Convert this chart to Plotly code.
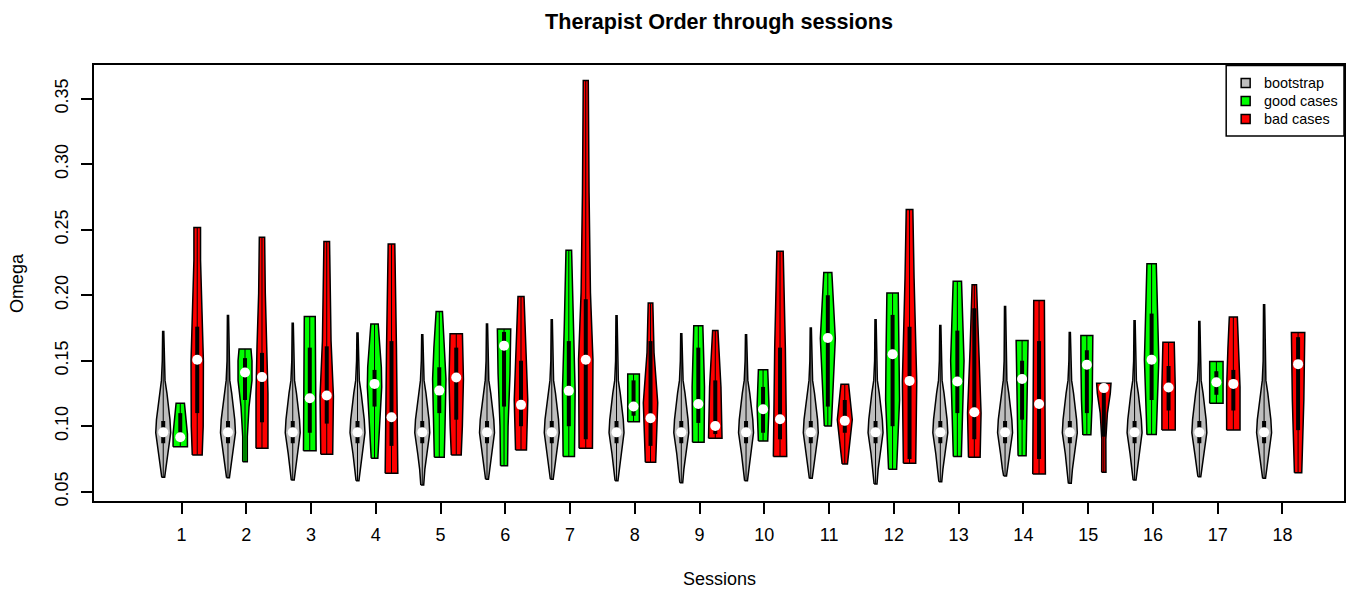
import plotly.graph_objects as go

# ---------------------------------------------------------------- data
sessions = list(range(1, 19))

# bootstrap distribution of Omega per session
boot_min = [0.0610, 0.0607, 0.0589, 0.0584, 0.0551, 0.0595, 0.0595, 0.0584, 0.0569,
            0.0584, 0.0602, 0.0559, 0.0576, 0.0620, 0.0564, 0.0589, 0.0615, 0.0602]
boot_max = [0.1723, 0.1846, 0.1787, 0.1711, 0.1698, 0.1780, 0.1813, 0.1843, 0.1706,
            0.1698, 0.1749, 0.1813, 0.1769, 0.1914, 0.1716, 0.1805, 0.1800, 0.1927]
boot_median = [0.0953] * 18
boot_q1 = [0.087] * 18
boot_q3 = [0.104] * 18
# relative density of the bootstrap violins (same shape every session)
boot_levels = [0.067, 0.079, 0.095, 0.105, 0.125, 0.135, 0.150]
boot_density = [0.36, 0.63, 1.04, 0.94, 0.52, 0.25, 0.13]
boot_end_density = (0.20, 0.08)

# good cases: (Omega level, relative density) from minimum to maximum
good_profiles = [
    [(0.0844, 1.00), (0.094, 1.00), (0.1176, 0.58)],
    [(0.0729, 0.32), (0.092, 0.32), (0.115, 0.56), (0.135, 0.97), (0.150, 0.97), (0.1589, 0.83)],
    [(0.0813, 0.88), (0.130, 0.85), (0.1838, 0.76)],
    [(0.0755, 0.46), (0.0997, 0.69), (0.130, 1.00), (0.145, 0.95), (0.1780, 0.51)],
    [(0.0763, 0.69), (0.100, 0.80), (0.136, 0.93), (0.160, 0.75), (0.1876, 0.44)],
    [(0.0699, 0.49), (0.100, 0.56), (0.140, 0.83), (0.160, 0.93), (0.1742, 0.93)],
    [(0.0768, 0.79), (0.127, 0.88), (0.176, 0.63), (0.2343, 0.39)],
    [(0.1035, 0.81), (0.1398, 0.81)],
    [(0.0878, 0.81), (0.130, 0.86), (0.1767, 0.63)],
    [(0.0888, 0.65), (0.115, 0.83), (0.1431, 0.65)],
    [(0.1002, 0.49), (0.167, 1.04), (0.2174, 0.56)],
    [(0.0671, 0.56), (0.120, 0.97), (0.160, 0.90), (0.2017, 0.79)],
    [(0.0768, 0.56), (0.150, 0.93), (0.2106, 0.58)],
    [(0.0775, 0.56), (0.130, 0.75), (0.1654, 0.83)],
    [(0.0934, 0.56), (0.120, 0.75), (0.150, 0.83), (0.1693, 0.83)],
    [(0.0936, 0.65), (0.1507, 1.00), (0.2241, 0.65)],
    [(0.1176, 0.93), (0.1494, 0.93)],
    None,
]
good_median = [0.0916, 0.1410, 0.1214, 0.1323, 0.1272, 0.1614, 0.1270, 0.1150, 0.1170,
               0.1130, 0.1673, 0.1550, 0.1341, 0.1360, 0.1469, 0.1507, 0.1336, None]
good_q1 = [0.088, 0.120, 0.095, 0.115, 0.110, 0.115, 0.100, 0.108, 0.1025,
           0.095, 0.115, 0.100, 0.110, 0.105, 0.110, 0.120, 0.124, None]
good_q3 = [0.110, 0.152, 0.160, 0.143, 0.145, 0.172, 0.165, 0.135, 0.160,
           0.130, 0.200, 0.185, 0.173, 0.150, 0.158, 0.186, 0.142, None]

# bad cases
bad_profiles = [
    [(0.0781, 0.69), (0.100, 0.83), (0.150, 0.86), (0.176, 0.74), (0.227, 0.46), (0.2518, 0.46)],
    [(0.0832, 0.83), (0.125, 0.83), (0.161, 0.69), (0.2017, 0.46), (0.2442, 0.37)],
    [(0.0786, 0.83), (0.123, 0.93), (0.165, 0.60), (0.2411, 0.39)],
    [(0.0641, 0.88), (0.100, 0.83), (0.160, 0.69), (0.2391, 0.46)],
    [(0.0781, 0.69), (0.100, 0.85), (0.136, 1.00), (0.155, 0.95), (0.1706, 0.86)],
    [(0.0819, 0.76), (0.120, 0.94), (0.150, 0.75), (0.1991, 0.42)],
    [(0.0832, 0.93), (0.151, 1.00), (0.202, 0.65), (0.278, 0.46), (0.3640, 0.35)],
    [(0.0725, 0.72), (0.118, 1.00), (0.156, 0.49), (0.1940, 0.32)],
    [(0.0908, 0.94), (0.130, 0.79), (0.1731, 0.37)],
    [(0.0768, 0.93), (0.160, 0.74), (0.2335, 0.44)],
    [(0.0712, 0.37), (0.105, 1.04), (0.1321, 0.53)],
    [(0.0717, 0.86), (0.134, 1.00), (0.213, 0.63), (0.2654, 0.46)],
    [(0.0763, 0.81), (0.110, 0.94), (0.160, 0.58), (0.2080, 0.31)],
    [(0.0635, 0.88), (0.130, 0.80), (0.1960, 0.74)],
    [(0.0648, 0.30), (0.090, 0.28), (0.110, 0.50), (0.125, 0.90), (0.1329, 1.00)],
    [(0.0972, 0.93), (0.130, 0.93), (0.1642, 0.79)],
    [(0.0972, 0.93), (0.130, 0.93), (0.160, 0.75), (0.1833, 0.56)],
    [(0.0645, 0.51), (0.120, 0.80), (0.1716, 0.93)],
]
bad_median = [0.1507, 0.1375, 0.1234, 0.1069, 0.1372, 0.1163, 0.1507, 0.1061, 0.1002,
              0.1053, 0.1041, 0.1346, 0.1107, 0.1170, 0.1291, 0.1295, 0.1323, 0.1474]
bad_q1 = [0.110, 0.103, 0.102, 0.085, 0.105, 0.100, 0.090, 0.085, 0.094,
          0.090, 0.095, 0.075, 0.090, 0.075, 0.092, 0.112, 0.112, 0.097]
bad_q3 = [0.176, 0.156, 0.161, 0.165, 0.160, 0.150, 0.197, 0.165, 0.135,
          0.160, 0.120, 0.176, 0.190, 0.165, 0.130, 0.146, 0.143, 0.168]

y_ticks = [0.05, 0.10, 0.15, 0.20, 0.25, 0.30, 0.35]
legend_labels = ["bootstrap", "good cases", "bad cases"]

# ---------------------------------------------------------------- styling
HALF_WIDTH = 0.111              # violin half-width (x units) at relative density 1
OFFSET = {"boot": -0.283, "good": -0.02, "bad": 0.242}
COLORS = {"boot": "#BEBEBE", "good": "#00FF00", "bad": "#FF0000"}
FONT = "Liberation Sans, Arial, sans-serif"
PLOT_W, PLOT_H = 1252, 436      # plotting area in pixels
MARGIN = dict(l=94, r=5, t=65, b=94)


def boot_profile(i):
    return ([(boot_min[i], boot_end_density[0])]
            + list(zip(boot_levels, boot_density))
            + [(boot_max[i], boot_end_density[1])])


def outline(center, profile):
    lv = [p[0] for p in profile]
    left = [center - p[1] * HALF_WIDTH for p in profile]
    right = [center + p[1] * HALF_WIDTH for p in profile]
    xs = left + right[::-1] + [left[0]]
    ys = lv + lv[::-1] + [lv[0]]
    return xs, ys


groups = {
    "boot": ([boot_profile(i) for i in range(18)], boot_median, boot_q1, boot_q3),
    "good": (good_profiles, good_median, good_q1, good_q3),
    "bad": (bad_profiles, bad_median, bad_q1, bad_q3),
}

fig = go.Figure()

wx, wy, bx, by, mx, my = [], [], [], [], [], []
for key, (profiles, med, q1, q3) in groups.items():
    px, py = [], []
    for s, prof in zip(sessions, profiles):
        if prof is None:
            continue
        c = s + OFFSET[key]
        xs, ys = outline(c, prof)
        px += xs + [None]
        py += ys + [None]
        wx += [c, c, None]
        wy += [prof[0][0], prof[-1][0], None]
    for s, m, a, b in zip(sessions, med, q1, q3):
        if m is None:
            continue
        c = s + OFFSET[key]
        bx += [c, c, None]
        by += [a, b, None]
        mx.append(c)
        my.append(m)
    fig.add_trace(go.Scatter(
        x=px, y=py, mode="lines", fill="toself", fillcolor=COLORS[key],
        line=dict(color="black", width=1.5), showlegend=False, hoverinfo="skip"))

# whiskers, interquartile boxes and medians
fig.add_trace(go.Scatter(x=wx, y=wy, mode="lines", line=dict(color="black", width=1),
                         showlegend=False, hoverinfo="skip"))
fig.add_trace(go.Scatter(x=bx, y=by, mode="lines", line=dict(color="black", width=4),
                         showlegend=False, hoverinfo="skip"))
fig.add_trace(go.Scatter(x=mx, y=my, mode="markers",
                         marker=dict(color="white", size=10, line=dict(width=0)),
                         showlegend=False, hoverinfo="skip"))


# ---------------------------------------------------------------- legend box
def px_x(p):
    return (p - MARGIN["l"]) / PLOT_W


def px_y(p):
    return (MARGIN["t"] + PLOT_H - p) / PLOT_H


shapes = [dict(type="rect", xref="paper", yref="paper",
               x0=px_x(1228), x1=px_x(1346), y0=px_y(136), y1=px_y(65.5),
               line=dict(color="black", width=1.5), fillcolor="white", layer="above")]
annotations = []
for k, (key, label) in enumerate(zip(["boot", "good", "bad"], legend_labels)):
    cy = 83 + 18 * k
    shapes.append(dict(type="rect", xref="paper", yref="paper",
                       x0=px_x(1243), x1=px_x(1252), y0=px_y(cy + 4.5), y1=px_y(cy - 4.5),
                       line=dict(color="black", width=1.5), fillcolor=COLORS[key],
                       layer="above"))
    annotations.append(dict(text=label, xref="paper", yref="paper",
                            x=px_x(1264), y=px_y(cy), xanchor="left", yanchor="middle",
                            showarrow=False,
                            font=dict(family=FONT, size=14.4, color="black")))

annotations += [
    dict(text="Sessions", xref="paper", yref="paper", x=0.5, y=-78 / PLOT_H,
         xanchor="center", yanchor="middle", showarrow=False,
         font=dict(family=FONT, size=18, color="black")),
    dict(text="Omega", xref="paper", yref="paper", x=-77 / PLOT_W, y=0.5,
         xanchor="center", yanchor="middle", showarrow=False, textangle=-90,
         font=dict(family=FONT, size=18, color="black")),
]

axis_common = dict(showline=True, linecolor="black", linewidth=1.5, mirror=True,
                   showgrid=False, zeroline=False, ticks="outside", ticklen=11,
                   tickwidth=1.5, tickcolor="black",
                   tickfont=dict(family=FONT, size=18, color="black"))

fig.update_xaxes(range=[-0.352, 18.951], tickmode="array", tickvals=sessions,
                 ticktext=[str(s) for s in sessions], ticklabelstandoff=6, **axis_common)
fig.update_yaxes(range=[0.0429, 0.3758], tickmode="array", tickvals=y_ticks,
                 ticktext=[f"{v:.2f}" for v in y_ticks], tickangle=-90,
                 ticklabelstandoff=6, **axis_common)

fig.update_layout(
    width=1351, height=595,
    margin=MARGIN,
    plot_bgcolor="white", paper_bgcolor="white",
    font=dict(family=FONT, size=18, color="black"),
    showlegend=False,
    title=dict(text="<b>Therapist Order through sessions</b>",
               font=dict(family=FONT, size=21.6, color="black"),
               x=0.5, xref="paper", xanchor="center",
               y=1 - 21 / 595, yref="container", yanchor="middle"),
    shapes=shapes,
    annotations=annotations,
)

fig.write_html("out.html")
